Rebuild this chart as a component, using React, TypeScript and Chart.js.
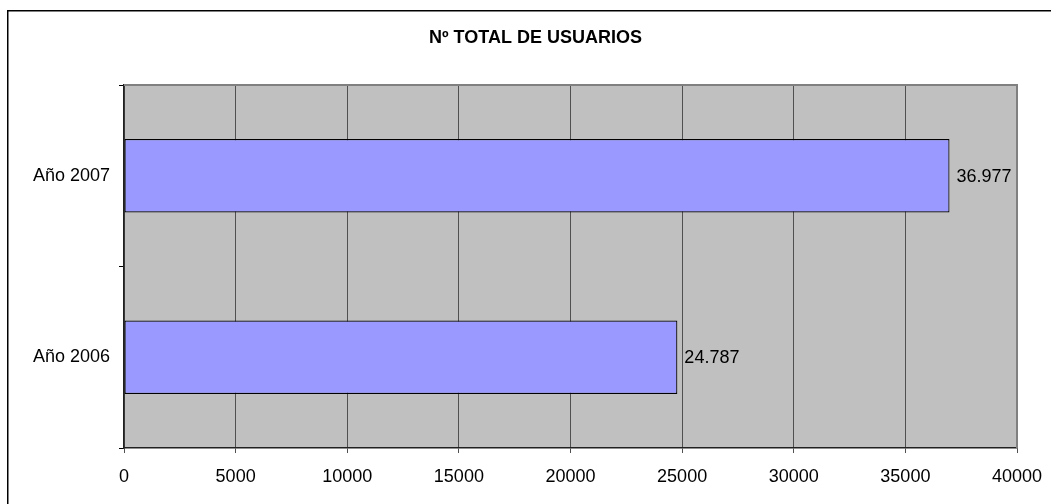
import React, { useEffect, useRef } from "react";
import { Chart, registerables } from "chart.js";

Chart.register(...registerables);

const TITLE = "Nº TOTAL DE USUARIOS";
const categories = ["Año 2007", "Año 2006"];
const usuarios = [36977, 24787];
const xMin = 0;
const xMax = 40000;
const xStep = 5000;

const FONT = "'Liberation Sans', Arial, sans-serif";

function formatNum(v: number): string {
  return String(v).replace(/\B(?=(\d{3})+(?!\d))/g, ".");
}

const decorPlugin = {
  id: "decor",
  beforeDraw(chart: any) {
    const { ctx, chartArea: a } = chart;
    ctx.save();
    ctx.fillStyle = "#ffffff";
    ctx.fillRect(0, 0, chart.width, chart.height);
    ctx.fillStyle = "#c0c0c0";
    ctx.fillRect(a.left, a.top, a.right - a.left, a.bottom - a.top);
    ctx.strokeStyle = "#000000";
    ctx.lineWidth = 1.5;
    ctx.beginPath();
    ctx.moveTo(7.75, chart.height);
    ctx.lineTo(7.75, 10.75);
    ctx.lineTo(chart.width, 10.75);
    ctx.stroke();
    ctx.fillStyle = "#000000";
    ctx.font = `bold 18px ${FONT}`;
    ctx.textAlign = "center";
    ctx.textBaseline = "middle";
    ctx.fillText(TITLE, 535.5, 38);
    ctx.restore();
  },
  afterDraw(chart: any) {
    const { ctx, chartArea: a } = chart;
    ctx.save();
    ctx.strokeStyle = "#808080";
    ctx.lineWidth = 2;
    ctx.beginPath();
    ctx.moveTo(a.left, a.top);
    ctx.lineTo(a.right, a.top);
    ctx.lineTo(a.right, a.bottom);
    ctx.stroke();
    ctx.restore();
  },
  afterDatasetsDraw(chart: any) {
    const { ctx } = chart;
    const meta = chart.getDatasetMeta(0);
    ctx.save();
    ctx.fillStyle = "#000000";
    ctx.font = `18px ${FONT}`;
    ctx.textAlign = "left";
    ctx.textBaseline = "middle";
    meta.data.forEach((bar: any, i: number) => {
      ctx.fillText(formatNum(usuarios[i]), bar.x + 7, bar.y + 1);
    });
    ctx.restore();
  },
};

export default function App() {
  const ref = useRef<HTMLCanvasElement | null>(null);
  useEffect(() => {
    if (!ref.current) return;
    document.body.style.overflow = "hidden";
    const chart = new Chart(ref.current, {
      type: "bar",
      data: {
        labels: categories,
        datasets: [
          {
            data: usuarios,
            backgroundColor: "#9999ff",
            borderColor: "#000000",
            borderWidth: 1.2,
            borderSkipped: false,
            barPercentage: 0.405,
            categoryPercentage: 1,
          },
        ],
      },
      options: {
        indexAxis: "y",
        animation: false,
        responsive: true,
        maintainAspectRatio: false,
        layout: { padding: { left: 0, top: 85, right: 34, bottom: 0 } },
        plugins: {
          legend: { display: false },
          title: { display: false },
          tooltip: { enabled: false },
        },
        scales: {
          x: {
            type: "linear",
            min: xMin,
            max: xMax,
            afterFit(scale: any) {
              scale.height = 56;
              scale.paddingRight = 0;
              scale.paddingLeft = 0;
            },
            ticks: {
              stepSize: xStep,
              color: "#000000",
              font: { family: FONT, size: 18 },
              padding: 13,
              maxRotation: 0,
              autoSkip: false,
              callback: (v: any) => String(v),
            },
            grid: {
              color: "#505050",
              lineWidth: 1,
              tickLength: 5,
              drawTicks: true,
            },
            border: { display: true, color: "#202020", width: 1.5 },
          },
          y: {
            type: "category",
            afterFit(scale: any) {
              scale.width = 124;
            },
            ticks: {
              color: "#000000",
              font: { family: FONT, size: 18 },
              padding: 9,
            },
            grid: {
              offset: true,
              drawOnChartArea: false,
              drawTicks: true,
              tickLength: 5,
              color: "#000000",
            },
            border: { display: true, color: "#202020", width: 1.5 },
          },
        },
      },
      plugins: [decorPlugin],
    });
    return () => chart.destroy();
  }, []);
  return (
    <div style={{ position: "fixed", left: 0, top: 0, width: 1051, height: 504 }}>
      <canvas ref={ref} />
    </div>
  );
}
